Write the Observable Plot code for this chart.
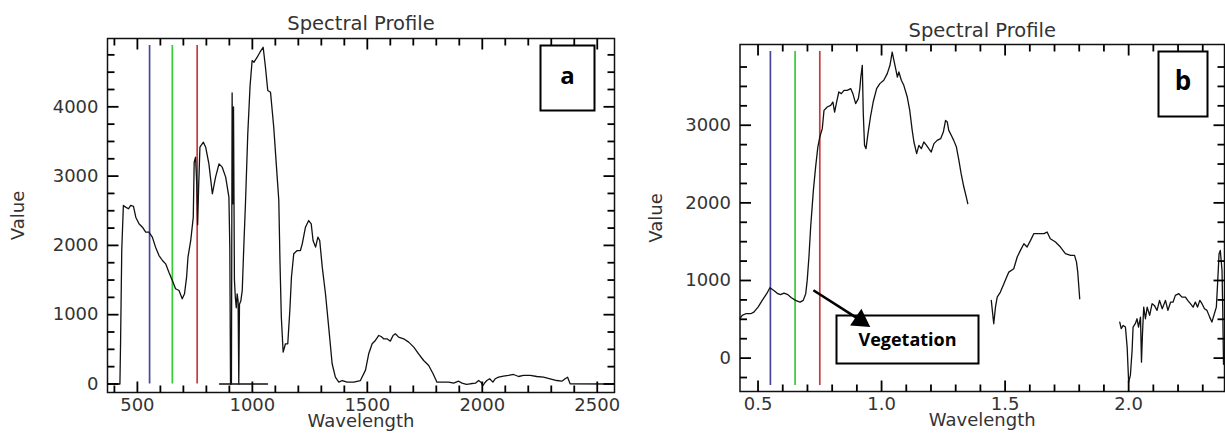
<!DOCTYPE html>
<html><head><meta charset="utf-8">
<script src="https://cdn.jsdelivr.net/npm/d3@7"></script>
<script src="https://cdn.jsdelivr.net/npm/@observablehq/plot@0.6"></script>
<style>
body{margin:0;background:#fff}
#wrap{position:relative;width:1225px;height:436px;overflow:hidden;background:#fff}
#wrap > div{position:absolute;top:0}
</style></head><body>
<div id="wrap"><div id="pa" style="left:0px"></div><div id="pb" style="left:620px"></div></div>
<script>
// ---------- Panel a data (wavelength in nm) ----------
const aWave = [370,424,427,432,439,449,461,471,483,493,507,522,536,550,565,579,594,609,623,637,652,666,681,695,705,714,720,732,743,747,753,758,762,766,772,787,797,811,826,840,855,869,884,898,902,905,909,912,915,918,922,926,930,934,938,941,944,950,956,963,970,980,990,999,1007,1021,1033,1047,1057,1067,1079,1093,1108,1115,1120,1126,1134,1144,1154,1163,1170,1180,1195,1209,1217,1231,1245,1256,1264,1275,1285,1293,1304,1318,1332,1347,1361,1376,1391,1412,1441,1470,1492,1506,1521,1535,1550,1560,1571,1586,1600,1612,1622,1636,1658,1680,1702,1723,1745,1767,1786,1803,1825,1854,1875,1897,1912,1931,1948,1970,1984,1994,2003,2013,2020,2032,2046,2056,2071,2092,2114,2136,2158,2179,2209,2237,2266,2295,2324,2346,2360,2371,2382,2575];
const aValue = [0,0,630,1930,2576,2552,2528,2576,2562,2407,2312,2263,2191,2191,2119,1975,1854,1782,1734,1614,1494,1374,1349,1229,1302,1541,1830,2071,2407,3200,3273,2900,2300,2800,3417,3489,3417,3177,2745,2985,3177,3129,2985,2696,1970,0,0,4200,2600,4000,1500,1250,1100,1300,1200,0,1150,1200,1350,2000,2600,3600,4300,4668,4644,4716,4788,4860,4571,4235,4211,3706,2985,2648,1782,964,459,580,580,1061,1541,1879,1926,1926,2023,2263,2359,2311,2071,1975,2119,2071,1686,1302,820,292,98,26,50,26,26,50,200,436,580,628,700,685,652,652,618,700,724,676,652,604,532,436,339,267,147,26,26,26,12,40,12,-7,3,12,50,26,-22,26,50,75,26,75,98,113,123,137,108,123,123,108,98,75,50,40,75,98,3,0];
const aZeroWave = [857,1066];
const aZeroValue = [0,0];
const aBandWave = [553,652,760];

// ---------- Panel b data (wavelength in µm) ----------
const bSeg1Wave = [0.427,0.436,0.450,0.470,0.483,0.500,0.517,0.535,0.548,0.564,0.580,0.591,0.605,0.621,0.635,0.652,0.670,0.683,0.693,0.699,0.706,0.713,0.720,0.724,0.733,0.742,0.750,0.760,0.767,0.780,0.794,0.803,0.810,0.818,0.827,0.837,0.848,0.861,0.875,0.884,0.895,0.906,0.912,0.916,0.922,0.926,0.931,0.937,0.945,0.955,0.966,0.980,0.993,1.009,1.023,1.034,1.043,1.050,1.057,1.064,1.070,1.080,1.090,1.104,1.114,1.124,1.131,1.142,1.151,1.161,1.171,1.182,1.191,1.201,1.212,1.225,1.239,1.250,1.259,1.266,1.272,1.282,1.292,1.303,1.313,1.322,1.333,1.343,1.349];
const bSeg1Value = [508,550,572,572,593,657,744,830,907,872,830,817,838,817,778,744,722,744,830,1001,1302,1688,1990,2161,2461,2719,2848,2956,3192,3235,3256,3299,3170,3299,3428,3407,3450,3450,3472,3407,3278,3343,3472,3621,3772,3149,2741,2698,2892,3106,3299,3472,3536,3579,3665,3772,3943,3836,3729,3621,3686,3579,3514,3363,3192,2934,2784,2634,2741,2698,2784,2741,2698,2655,2763,2805,2827,2912,3063,3041,2934,2870,2805,2719,2548,2376,2204,2075,1990];
const bSeg2Wave = [1.444,1.454,1.461,1.468,1.481,1.495,1.515,1.535,1.549,1.562,1.576,1.589,1.603,1.616,1.636,1.657,1.670,1.683,1.704,1.724,1.744,1.765,1.781,1.789,1.794,1.802];
const bSeg2Value = [744,443,657,786,851,959,1108,1152,1302,1388,1474,1431,1517,1603,1603,1603,1624,1538,1495,1431,1345,1323,1323,1237,1108,765];
const bSeg3Wave = [1.964,1.970,1.978,1.987,1.994,2.000,2.007,2.014,2.018,2.027,2.034,2.040,2.048,2.052,2.056,2.061,2.068,2.075,2.085,2.095,2.104,2.115,2.125,2.136,2.149,2.159,2.170,2.180,2.189,2.203,2.216,2.230,2.239,2.250,2.261,2.270,2.279,2.288,2.297,2.307,2.317,2.328,2.337,2.347,2.355,2.360,2.366,2.371,2.378,2.381,2.384];
const bSeg3Value = [464,379,421,400,142,-309,-223,99,400,443,507,400,528,-52,314,657,507,657,550,701,679,615,744,636,744,615,722,722,808,830,786,786,744,701,657,722,657,744,701,636,615,528,464,571,657,959,1345,1388,1130,600,-80];
const bBandWave = [0.55,0.65,0.75];
const vegArrowFrom = [0.724, 874];
const vegArrowTo = [0.915, 486];

// ---------- shared ----------
const bandColor = ["#46469c","#33cc33","#c53c3c"];
const aXTicks = [500,1000,1500,2000,2500];
const aYTicks = [0,1000,2000,3000,4000];
const bXTicks = [0.5,1.0,1.5,2.0];
const bXTickLabels = ["0.5","1.0","1.5","2.0"];
const bYTicks = [0,1000,2000,3000];
const titleText = "Spectral Profile";
const xTitle = "Wavelength";
const yTitle = "Value";

const ink = "#111";
const font = "DejaVu Sans";
const majorLen = 11, minorLen = 7;

// inward ticks on all four sides; pixel lengths converted into data units of each scale
function tickMarks(iw, ih, xDom, yDom, xMaj, xMin, yMaj, yMin) {
  const o = {stroke: "#000", strokeWidth: 1.8};
  const ky = (yDom[1] - yDom[0]) / ih, kx = (xDom[1] - xDom[0]) / iw;
  const rows = [];
  for (const [ticks, len] of [[xMaj, majorLen], [xMin, minorLen]]) {
    for (const t of ticks) {
      rows.push({x1: t, x2: t, y1: yDom[0], y2: yDom[0] + len * ky});
      rows.push({x1: t, x2: t, y1: yDom[1], y2: yDom[1] - len * ky});
    }
  }
  for (const [ticks, len] of [[yMaj, majorLen], [yMin, minorLen]]) {
    for (const t of ticks) {
      rows.push({y1: t, y2: t, x1: xDom[0], x2: xDom[0] + len * kx});
      rows.push({y1: t, y2: t, x1: xDom[1], x2: xDom[1] - len * kx});
    }
  }
  return [Plot.link(rows, {x1: "x1", x2: "x2", y1: "y1", y2: "y2", ...o})];
}
const txt = {fontFamily: font, fontSize: 18, fill: "#333", letterSpacing: 2, lineAnchor: "middle"};
const boxTxt = {fontFamily: "Open Sans", fontWeight: 700, fill: "#000", textAnchor: "middle", lineAnchor: "middle"};

// ---------- Panel a ----------
{
  const W = 620, H = 436, ml = 107, mr = 6, mt = 38, mb = 44;
  const iw = W - ml - mr, ih = H - mt - mb;
  const xDom = [370, 2575], yDom = [-123, 4986];
  const rows = aWave.map((w, i) => ({w, v: aValue[i]}));
  const zeroRows = aZeroWave.map((w, i) => ({w, v: aZeroValue[i]}));
  const bands = aBandWave.map((w, i) => ({w, c: bandColor[i]}));
  const xMin = d3.range(400, 2575, 100).filter(d => d % 500);
  const yMin = d3.range(250, 4986, 250).filter(d => d % 1000);
  const p = Plot.plot({
    width: W, height: H, marginLeft: ml, marginRight: mr, marginTop: mt, marginBottom: mb,
    x: {domain: xDom, axis: null}, y: {domain: yDom, axis: null},
    style: {background: "transparent", overflow: "visible"},
    marks: [
      Plot.ruleX(bands, {x: "w", insetTop: 7, insetBottom: 8.5, stroke: "c", strokeWidth: 1.7}),
      Plot.line(rows, {x: "w", y: "v", stroke: ink, strokeWidth: 1.3}),
      Plot.line(zeroRows, {x: "w", y: "v", stroke: ink, strokeWidth: 1.3}),
      Plot.frame({stroke: ink, strokeWidth: 1.5}),
      ...tickMarks(iw, ih, xDom, yDom, aXTicks, xMin, aYTicks, yMin),
      Plot.text(aXTicks, {x: d => d, frameAnchor: "bottom", dy: 13, textAnchor: "middle", text: d => String(d), ...txt}),
      Plot.text(aYTicks, {y: d => d, frameAnchor: "left", dx: -9, textAnchor: "end", text: d => String(d), ...txt}),
      Plot.text([titleText], {frameAnchor: "top", dy: -15, textAnchor: "middle", text: d => d, ...txt, fontSize: 19.5, letterSpacing: 2.5}),
      Plot.text([xTitle], {frameAnchor: "bottom", dy: 29, textAnchor: "middle", text: d => d, ...txt}),
      Plot.text([yTitle], {frameAnchor: "left", dx: -89, rotate: -90, textAnchor: "middle", text: d => d, ...txt}),
      Plot.frame({insetLeft: 433, insetRight: 20, insetTop: 7, insetBottom: 282, stroke: "#000", strokeWidth: 2, fill: "#fff"}),
      Plot.text(["a"], {frameAnchor: "top-right", dx: -47, dy: 38, text: d => d, fontSize: 24, ...boxTxt})
    ]
  });
  document.getElementById("pa").appendChild(p);
}

// ---------- Panel b ----------
{
  const W = 605, H = 436, ml = 119.5, mr = 1, mt = 44, mb = 45;
  const iw = W - ml - mr, ih = H - mt - mb;
  const xDom = [0.427, 2.388], yDom = [-430, 4040];
  const rows = [
    ...bSeg1Wave.map((w, i) => ({w, v: bSeg1Value[i], s: 1})),
    ...bSeg2Wave.map((w, i) => ({w, v: bSeg2Value[i], s: 2})),
    ...bSeg3Wave.map((w, i) => ({w, v: bSeg3Value[i], s: 3}))
  ];
  const bands = bBandWave.map((w, i) => ({w, c: bandColor[i]}));
  const xMin = d3.range(5, 24).map(d => d / 10).filter(d => Math.round(d * 10) % 5);
  const yMin = d3.range(-250, 4040, 250).filter(d => d % 1000);
  const p = Plot.plot({
    width: W, height: H, marginLeft: ml, marginRight: mr, marginTop: mt, marginBottom: mb,
    x: {domain: xDom, axis: null}, y: {domain: yDom, axis: null},
    style: {background: "transparent", overflow: "visible"},
    marks: [
      Plot.ruleX(bands, {x: "w", insetTop: 7, insetBottom: 6, stroke: "c", strokeWidth: 1.7}),
      Plot.line(rows, {x: "w", y: "v", z: "s", stroke: ink, strokeWidth: 1.3}),
      Plot.frame({stroke: ink, strokeWidth: 1.5}),
      ...tickMarks(iw, ih, xDom, yDom, bXTicks, xMin, bYTicks, yMin),
      Plot.text(bXTicks, {x: d => d, frameAnchor: "bottom", dy: 13, textAnchor: "middle", text: (d, i) => bXTickLabels[i], ...txt}),
      Plot.text(bYTicks, {y: d => d, frameAnchor: "left", dx: -9, textAnchor: "end", text: d => String(d), ...txt}),
      Plot.text([titleText], {frameAnchor: "top", dy: -14, textAnchor: "middle", text: d => d, ...txt, fontSize: 19.5, letterSpacing: 2.5}),
      Plot.text([xTitle], {frameAnchor: "bottom", dy: 29, textAnchor: "middle", text: d => d, ...txt}),
      Plot.text([yTitle], {frameAnchor: "left", dx: -84, rotate: -90, textAnchor: "middle", text: d => d, ...txt}),
      Plot.frame({insetLeft: 418.5, insetRight: 17, insetTop: 7, insetBottom: 275, stroke: "#000", strokeWidth: 2, fill: "#fff"}),
      Plot.text(["b"], {frameAnchor: "top-right", dx: -41.5, dy: 37, text: d => d, fontSize: 26, ...boxTxt}),
      Plot.frame({insetLeft: 96.5, insetRight: 246, insetTop: 271, insetBottom: 28, stroke: "#000", strokeWidth: 2, fill: "#fff"}),
      Plot.text(["Vegetation"], {frameAnchor: "top-left", dx: 167.5, dy: 296, text: d => d, fontSize: 18, ...boxTxt}),
      Plot.link([0], {x1: () => vegArrowFrom[0], y1: () => vegArrowFrom[1], x2: () => vegArrowTo[0], y2: () => vegArrowTo[1], stroke: "#000", strokeWidth: 2.6}),
      Plot.dot([0], {x: () => vegArrowTo[0], y: () => vegArrowTo[1], symbol: "triangle", r: 7.5, rotate: 124, fill: "#000", stroke: "none"})
    ]
  });
  document.getElementById("pb").appendChild(p);
}
</script>
</body></html>
